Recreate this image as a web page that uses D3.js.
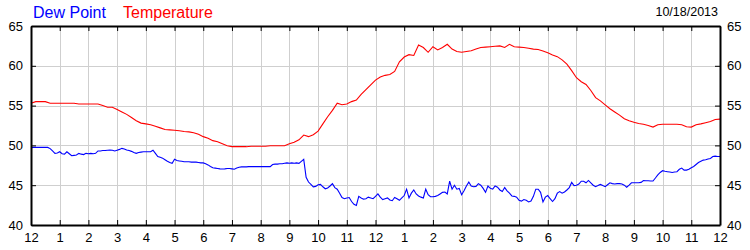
<!DOCTYPE html>
<html>
<head>
<meta charset="utf-8">
<script src="https://cdn.jsdelivr.net/npm/d3@7"></script>
<style>
  body { margin: 0; background: #fff; }
  svg { display: block; font-family: "Liberation Sans", Arial, sans-serif; }
</style>
</head>
<body>
<div id="chart"></div>
<script>
//data - midnight to midnight
const hourLabels = ["12","1","2","3","4","5","6","7","8","9","10","11","12","1","2","3","4","5","6","7","8","9","10","11","12"];
const yTicks = [40, 45, 50, 55, 60, 65];
const dateLabel = "10/18/2013";

//temperature every 10 minutes
const tempStepMin = 10;
const temperature = [
  55.3,55.5,55.5,55.5,55.3,55.3,55.3,55.3,55.3,55.3,55.2,55.2,55.2,55.2,55.2,55.0,54.8,54.8,54.5,54.2,
  53.9,53.5,53.1,52.8,52.7,52.6,52.4,52.2,52.0,51.95,51.9,51.85,51.75,51.7,51.6,51.4,51.1,50.9,50.6,50.45,
  50.2,49.96,49.85,49.85,49.85,49.84,49.9,49.9,49.9,49.9,49.96,49.96,49.96,49.96,50.2,50.4,50.7,51.3,51.1,51.35,
  51.8,52.7,53.6,54.4,55.3,55.1,55.2,55.5,55.7,56.4,57.0,57.6,58.2,58.6,58.8,58.9,59.3,60.5,61.1,61.4,
  61.3,62.6,62.3,61.7,62.4,62.0,62.3,62.7,62.1,61.8,61.7,61.8,61.9,62.1,62.3,62.35,62.4,62.45,62.5,62.3,
  62.7,62.4,62.35,62.3,62.2,62.1,62.05,61.85,61.65,61.35,61.15,60.75,60.2,59.4,58.5,58.0,57.65,56.9,56.0,55.6,
  55.1,54.6,54.2,53.8,53.35,53.1,52.9,52.75,52.65,52.5,52.3,52.6,52.65,52.65,52.65,52.65,52.6,52.35,52.3,52.6,
  52.7,52.85,53.0,53.25,53.3
];

//dew point every 5 minutes, one row per hour
const dewStepMin = 5;
const dewPoint = [
  49.72,49.75,49.75,49.75,49.75,49.75,49.75,49.75,49.6,49.3,49.0,49.05,
  49.2,48.95,48.9,49.2,48.95,48.7,48.75,48.8,49.0,48.9,48.85,49.0,
  48.95,49.0,48.95,49.0,49.3,49.3,49.35,49.35,49.4,49.42,49.4,49.3,
  49.4,49.5,49.63,49.55,49.42,49.35,49.25,49.1,49.0,49.1,49.15,49.2,
  49.2,49.2,49.2,49.4,49.0,48.6,48.5,48.4,48.2,48.0,47.85,47.75,
  48.25,48.1,48.05,48.0,47.95,47.95,47.95,47.9,47.9,47.9,47.85,47.8,
  47.8,47.7,47.55,47.35,47.2,47.15,47.1,47.05,47.04,47.05,47.1,47.1,
  47.05,47.0,47.15,47.25,47.3,47.3,47.3,47.33,47.33,47.33,47.33,47.33,
  47.33,47.33,47.33,47.33,47.33,47.6,47.65,47.65,47.7,47.7,47.75,47.8,
  47.75,47.8,47.75,47.8,47.75,48.0,48.25,46.0,45.4,45.1,44.8,44.85,
  45.05,45.1,44.8,44.55,44.65,44.9,45.2,44.7,44.5,44.0,43.45,43.3,
  43.4,43.45,42.95,42.6,42.45,43.6,43.4,43.25,43.3,43.5,43.4,43.3,
  43.6,43.9,43.5,43.2,43.3,43.4,43.15,43.05,43.45,43.3,43.1,43.4,
  43.7,44.5,43.4,44.0,44.4,43.9,43.65,43.5,43.4,44.5,43.8,43.55,
  43.55,43.6,43.7,43.9,44.1,44.15,43.9,45.5,44.5,45.0,44.5,44.6,
  43.8,44.3,44.9,45.4,44.9,44.8,44.85,45.2,45.0,44.6,44.1,44.9,
  44.6,44.5,44.9,44.75,44.4,44.2,44.7,44.3,44.0,43.65,43.6,43.5,
  43.1,43.0,43.2,43.1,42.9,43.0,43.6,44.5,44.5,44.1,42.9,43.5,
  43.7,43.3,42.95,43.3,44.0,44.2,44.0,44.15,44.4,44.7,45.35,44.95,
  45.0,45.15,45.5,45.5,45.3,45.6,45.3,45.0,44.81,44.95,45.1,44.95,
  44.81,45.05,45.3,45.2,45.15,45.2,45.2,45.15,45.0,44.75,45.0,45.3,
  45.3,45.3,45.3,45.35,45.57,45.55,45.55,45.53,45.52,45.9,46.3,46.6,
  46.82,46.75,46.7,46.65,46.6,46.65,46.7,47.0,47.15,46.9,46.9,47.0,
  47.2,47.35,47.6,47.85,48.0,48.15,48.2,48.3,48.35,48.6,48.65,48.6,
  48.6
];

//size
const W = 750, H = 250;
const plot = { left: 31, right: 720, top: 26, bottom: 225 };

const svg = d3.select("#chart").append("svg")
  .attr("width", W)
  .attr("height", H);

svg.append("rect").attr("width", W).attr("height", H).attr("fill", "#fff");

const x = d3.scaleLinear().domain([0, 24]).range([plot.left, plot.right]);
const y = d3.scaleLinear().domain([40, 65]).range([plot.bottom, plot.top]);

const hours = d3.range(0, 25);

//grid
const grid = svg.append("g").attr("stroke", "#cfcfcf").attr("stroke-width", 1);
grid.selectAll("line.v")
  .data(hours.slice(1, -1))
  .enter().append("line")
  .attr("x1", d => Math.round(x(d)) + 0.5)
  .attr("x2", d => Math.round(x(d)) + 0.5)
  .attr("y1", plot.top)
  .attr("y2", plot.bottom);
grid.selectAll("line.h")
  .data(yTicks.slice(1, -1))
  .enter().append("line")
  .attr("y1", d => Math.round(y(d)) + 0.5)
  .attr("y2", d => Math.round(y(d)) + 0.5)
  .attr("x1", plot.left)
  .attr("x2", plot.right);

//lines
const lineFor = (stepMin) => d3.line()
  .x((d, i) => x(i * stepMin / 60))
  .y(d => y(d));

svg.append("path")
  .datum(dewPoint)
  .attr("fill", "none")
  .attr("stroke", "#0000ff")
  .attr("stroke-width", 1.1)
  .attr("d", lineFor(dewStepMin));

svg.append("path")
  .datum(temperature)
  .attr("fill", "none")
  .attr("stroke", "#ff0000")
  .attr("stroke-width", 1.1)
  .attr("d", lineFor(tempStepMin));

//axes - ticks point inward
const fmtHour = (d) => hourLabels[d];

function styleAxis(g) {
  g.select(".domain").attr("stroke", "#000").attr("stroke-width", 2);
  g.selectAll(".tick line").attr("stroke", "#000").attr("stroke-width", 1);
  g.selectAll(".tick text").attr("fill", "#000").style("font-size", "13px")
    .style("font-family", "'Liberation Sans', Arial, sans-serif");
}

svg.append("g")
  .attr("transform", `translate(0,${plot.bottom})`)
  .call(d3.axisBottom(x).tickValues(hours).tickFormat(fmtHour).tickSize(-5).tickSizeOuter(0).tickPadding(8))
  .call(styleAxis);

svg.append("g")
  .attr("transform", `translate(0,${plot.top})`)
  .call(d3.axisTop(x).tickValues(hours).tickFormat("").tickSize(-5).tickSizeOuter(0))
  .call(styleAxis);

svg.append("g")
  .attr("transform", `translate(${plot.left},0)`)
  .call(d3.axisLeft(y).tickValues(yTicks).tickSize(-5).tickSizeOuter(0).tickPadding(8))
  .call(styleAxis);

svg.append("g")
  .attr("transform", `translate(${plot.right},0)`)
  .call(d3.axisRight(y).tickValues(yTicks).tickSize(-5).tickSizeOuter(0).tickPadding(7))
  .call(styleAxis);

//legend
svg.append("text")
  .attr("x", 33).attr("y", 18)
  .attr("fill", "#0000ff")
  .style("font-size", "16px")
  .text("Dew Point");

svg.append("text")
  .attr("x", 123).attr("y", 18)
  .attr("fill", "#ff0000")
  .style("font-size", "16px")
  .text("Temperature");

svg.append("text")
  .attr("x", 718).attr("y", 16)
  .attr("text-anchor", "end")
  .attr("fill", "#000")
  .style("font-size", "12.5px")
  .text(dateLabel);
</script>
</body>
</html>
